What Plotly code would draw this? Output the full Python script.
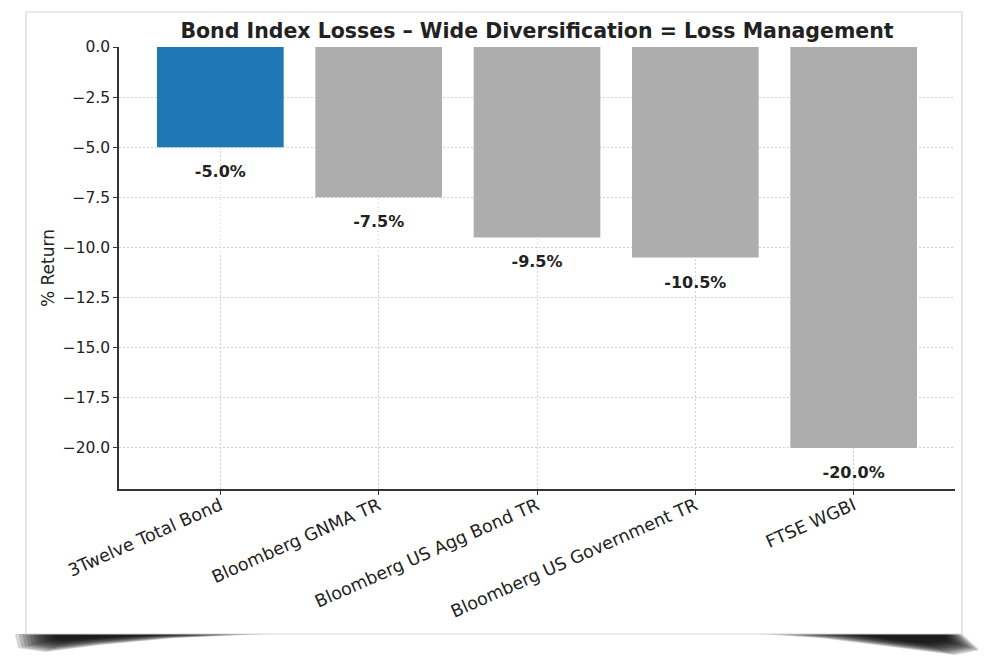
import plotly.graph_objects as go

categories = ["3Twelve Total Bond", "Bloomberg GNMA TR", "Bloomberg US Agg Bond TR",
              "Bloomberg US Government TR", "FTSE WGBI"]
returns = [-5.0, -7.5, -9.5, -10.5, -20.0]
bar_colors = ["#1f77b4", "#adadad", "#adadad", "#adadad", "#adadad"]
label_texts = ["-5.0%", "-7.5%", "-9.5%", "-10.5%", "-20.0%"]
label_offset = -1.3
ytick_vals = [0, -2.5, -5, -7.5, -10, -12.5, -15, -17.5, -20]
ytick_text = ["0.0", "\u22122.5", "\u22125.0", "\u22127.5", "\u221210.0",
              "\u221212.5", "\u221215.0", "\u221217.5", "\u221220.0"]

OFF = 8  # browser default body margin
W, H = 986 - OFF, 658 - OFF
L, R, T, B = 119 - OFF, 955 - OFF, 47 - OFF, 489 - OFF

def px(x):
    return (x - OFF - L) / (R - L)

def py(y):
    return (B - (y - OFF)) / (B - T)

fig = go.Figure()
fig.add_trace(go.Bar(x=categories, y=returns, marker=dict(color=bar_colors, line=dict(width=0)),
                     width=0.8, hoverinfo="x+y", showlegend=False))
fig.add_trace(go.Scatter(x=categories, y=[v + label_offset for v in returns], mode="text",
                         text=label_texts, textposition="middle center",
                         textfont=dict(family="DejaVu Sans", size=16, color="#222222", weight="bold"),
                         showlegend=False, hoverinfo="skip"))

shapes = []

def path(points):
    return "M " + " L ".join(f"{px(a):.5f},{py(b):.5f}" for a, b in points) + " Z"

def blend(inner, outer, t):
    return [(a[0] + (b[0] - a[0]) * t, a[1] + (b[1] - a[1]) * t) for a, b in zip(inner, outer)]

left_in = [(55, 634), (190, 634), (135, 636), (90, 638.5), (65, 640), (56, 639)]
left_out = [(15, 634), (270, 634), (175, 638), (100, 645), (45, 652), (18, 648)]
right_in = [(850, 634), (945, 634), (946, 641), (925, 643), (895, 640), (870, 636)]
right_out = [(760, 634), (962, 634), (980, 650), (955, 655), (900, 648), (820, 638)]

N = 12
for i in range(N):
    t = 1 - i / (N - 1)
    for a, b in [(left_in, left_out), (right_in, right_out)]:
        shapes.append(dict(type="path", xref="paper", yref="paper", layer="below",
                           path=path(blend(a, b, t)),
                           fillcolor="rgba(0,0,0,0.16)", line=dict(width=0)))
# card
shapes.append(dict(type="rect", xref="paper", yref="paper", layer="below",
                   x0=px(26), x1=px(962), y0=py(634), y1=py(12),
                   fillcolor="white", line=dict(color="#d6d6d6", width=1.2)))

fig.update_layout(
    width=W, height=H,
    margin=dict(l=L, r=W - R, t=T, b=H - B, autoexpand=False),
    paper_bgcolor="white", plot_bgcolor="rgba(0,0,0,0)",
    shapes=shapes,
    font=dict(family="DejaVu Sans", color="#222222"),
    title=dict(text="<b>Bond Index Losses \u2013 Wide Diversification = Loss Management</b>",
               x=px(537), xanchor="center", y=1 - (31 - OFF) / H, yanchor="middle",
               xref="paper", yref="container",
               font=dict(family="DejaVu Sans", size=20.5, color="#222222")),
    xaxis=dict(type="category", range=[-0.64, 4.64], showgrid=True, gridcolor="#d0d0d0",
               griddash="1.5px,2.5px", gridwidth=1, showline=True, linecolor="#333333", linewidth=1.5,
               ticks="outside", ticklen=4, tickcolor="#333333", tickangle=-24, ticklabelstandoff=-6,
               tickfont=dict(family="DejaVu Sans", size=17.5, color="#222222"), zeroline=False),
    yaxis=dict(range=[-22.05, 0], tickvals=ytick_vals, ticktext=ytick_text, showgrid=True,
               gridcolor="#d0d0d0", griddash="1.5px,2.5px", gridwidth=1, showline=True,
               linecolor="#333333", linewidth=1.5, ticks="outside", ticklen=4, tickcolor="#333333",
               zeroline=False, tickfont=dict(family="DejaVu Sans", size=15.5, color="#222222"),
               title=dict(text="% Return", standoff=4,
                          font=dict(family="DejaVu Sans", size=17, color="#222222"))),
)

fig.write_html("out.html")
